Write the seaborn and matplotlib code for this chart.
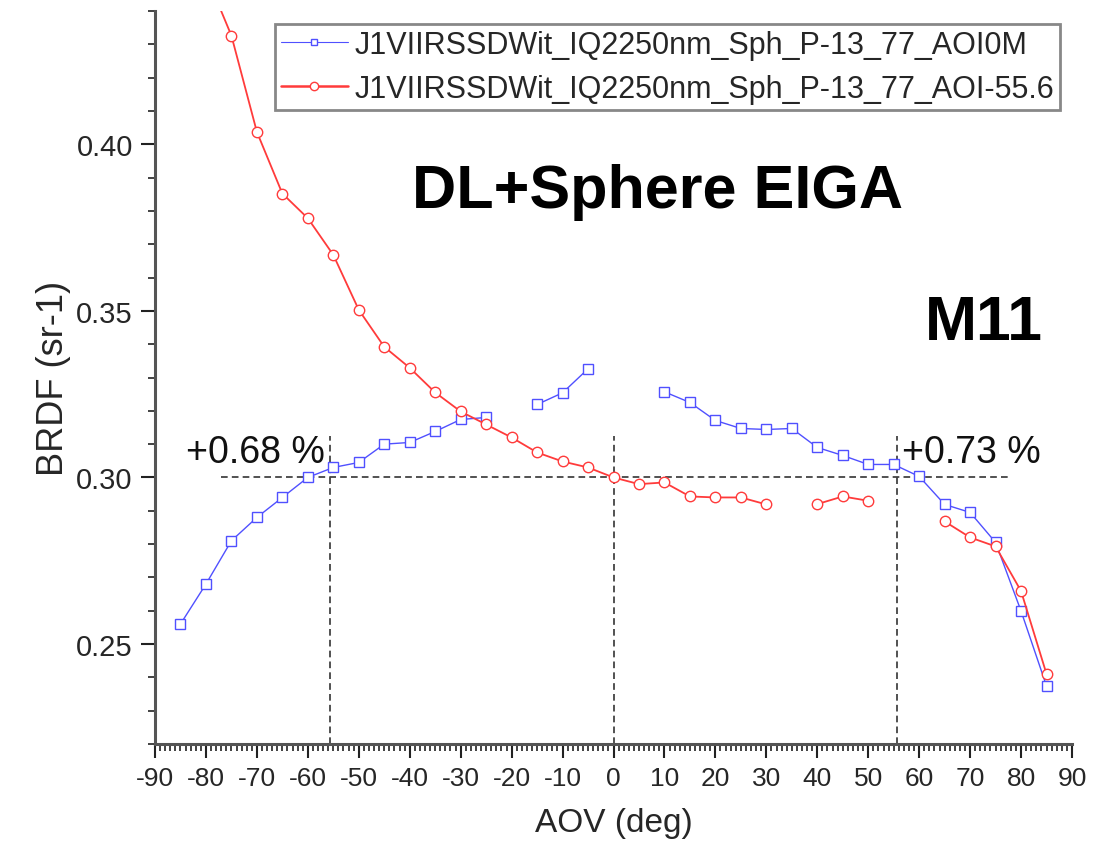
import numpy as np
import pandas as pd
import matplotlib
matplotlib.use("Agg")
import matplotlib.pyplot as plt
from matplotlib.lines import Line2D
from matplotlib.ticker import MultipleLocator, FormatStrFormatter
import seaborn as sns

nan = np.nan

# ---- data -------------------------------------------------------------
aov = [-85, -80, -75, -70, -65, -60, -55, -50, -45, -40, -35, -30, -25, -20,
       -15, -10, -5, 0, 5, 10, 15, 20, 25, 30, 35, 40, 45, 50, 55, 60, 65,
       70, 75, 80, 85]

brdf_aoi0m = [0.256, 0.268, 0.281, 0.288, 0.294, 0.300, 0.303, 0.3045, 0.310,
              0.3105, 0.3138, 0.3174, 0.318, nan, 0.3219, 0.3254, 0.3326,
              nan, nan, 0.3257, 0.3225, 0.3171, 0.3147, 0.3144, 0.3147, 0.309,
              0.3066, 0.3039, 0.3039, 0.3003, 0.2919, 0.2895, 0.2805, 0.2599,
              0.2374]

brdf_aoi556 = [nan, 0.451, 0.4326, 0.4037, 0.3852, 0.3778, 0.3668, 0.3503,
               0.3392, 0.3329, 0.3255, 0.3198, 0.3159, 0.312, 0.3075, 0.3048,
               0.303, 0.300, 0.298, 0.2985, 0.2943, 0.294, 0.294, 0.2919, nan,
               0.292, 0.2943, 0.293, nan, nan, 0.2868, 0.282, 0.2793, 0.2659,
               0.241]

series_names = ["J1VIIRSSDWit_IQ2250nm_Sph_P-13_77_AOI0M",
                "J1VIIRSSDWit_IQ2250nm_Sph_P-13_77_AOI-55.6"]

x_ticks = list(range(-90, 91, 10))
y_ticks = [0.25, 0.30, 0.35, 0.40]

ref_level = 0.30
ref_aov = [-55.6, 0.0, 55.6]
annot_left = "+0.68 %"
annot_right = "+0.73 %"
title_text = "DL+Sphere EIGA"
band_text = "M11"

# ---- style ------------------------------------------------------------
sns.set_style("white")
plt.rcParams["font.family"] = ["Liberation Sans", "DejaVu Sans"]
plt.rcParams["axes.unicode_minus"] = False

W, H = 1113, 862
fig = plt.figure(figsize=(W / 100, H / 100), dpi=100)
ax = fig.add_axes([155 / W, 1 - 745 / H, (1072 - 155) / W, (745 - 12) / H])

blue = "#5050ff"
red = "#ff3b3b"

df = pd.DataFrame({"aov": aov, "a": brdf_aoi0m, "b": brdf_aoi556})


def draw_series(col, color, marker, lw, ms):
    vals = df[["aov", col]].rename(columns={col: "brdf"})
    seg = vals["brdf"].isna().cumsum()
    vals = vals.assign(seg=seg).dropna()
    for _, part in vals.groupby("seg"):
        sns.lineplot(data=part, x="aov", y="brdf", ax=ax, color=color,
                     linewidth=lw, marker=marker, markersize=ms,
                     markerfacecolor="white", markeredgecolor=color,
                     markeredgewidth=1.0, errorbar=None, estimator=None)


draw_series("a", blue, "s", 1.0, 7)
draw_series("b", red, "o", 1.3, 7.5)

# reference lines
ax.plot([-77, 78], [ref_level, ref_level], color="#333333", lw=1.2,
        linestyle=(0, (4, 2.5)), zorder=1)
for xv in ref_aov:
    ax.plot([xv, xv], [0.22, 0.3125], color="#333333", lw=1.2,
            linestyle=(0, (4, 2.5)), zorder=1)

ax.set_xlim(-90, 90)
ax.set_ylim(0.22, 0.44)
ax.set_xticks(x_ticks)
ax.set_yticks(y_ticks)
ax.yaxis.set_major_formatter(FormatStrFormatter("%.2f"))
ax.xaxis.set_minor_locator(MultipleLocator(1))
ax.yaxis.set_minor_locator(MultipleLocator(0.01))

for s in ["top", "right"]:
    ax.spines[s].set_visible(False)
for s in ["left", "bottom"]:
    ax.spines[s].set_color("#555555")
    ax.spines[s].set_linewidth(2.2)

ax.tick_params(axis="both", which="major", direction="out", length=10,
               width=1.5, color="#222222", left=True, bottom=True)
ax.tick_params(axis="both", which="minor", direction="out", length=5,
               width=1.2, color="#222222", left=True, bottom=True)
ax.tick_params(axis="x", labelsize=19, pad=6)
ax.tick_params(axis="y", labelsize=21, pad=6)

ax.set_xlabel("AOV (deg)", fontsize=24, labelpad=12)
ax.set_ylabel("BRDF (sr-1)", fontsize=26, labelpad=4)

# legend
handles = [
    Line2D([], [], color=blue, lw=0.8, marker="s", markersize=5,
           markerfacecolor="white", markeredgecolor=blue),
    Line2D([], [], color=red, lw=1.8, marker="o", markersize=6,
           markerfacecolor="white", markeredgecolor=red),
]
leg = ax.legend(handles, series_names, loc="upper right",
                bbox_to_anchor=(1060 / W, 1 - 25 / H),
                bbox_transform=fig.transFigure, fontsize=22,
                frameon=True, fancybox=False, framealpha=1,
                edgecolor="#888888", borderpad=0.2, labelspacing=0.45,
                handlelength=2.2, handletextpad=0.2, borderaxespad=0)
leg.get_frame().set_linewidth(2)

# annotations
fig.text(412 / W, 1 - 208 / H, title_text, fontsize=44, fontweight="bold",
         ha="left", va="baseline", color="black")
fig.text(925 / W, 1 - 340 / H, band_text, fontsize=45, fontweight="bold",
         ha="left", va="baseline", color="black")
fig.text(186 / W, 1 - 463 / H, annot_left, fontsize=27, ha="left",
         va="baseline", color="#111111")
fig.text(902 / W, 1 - 463 / H, annot_right, fontsize=27, ha="left",
         va="baseline", color="#111111")

fig.savefig("out.png", dpi=100)
